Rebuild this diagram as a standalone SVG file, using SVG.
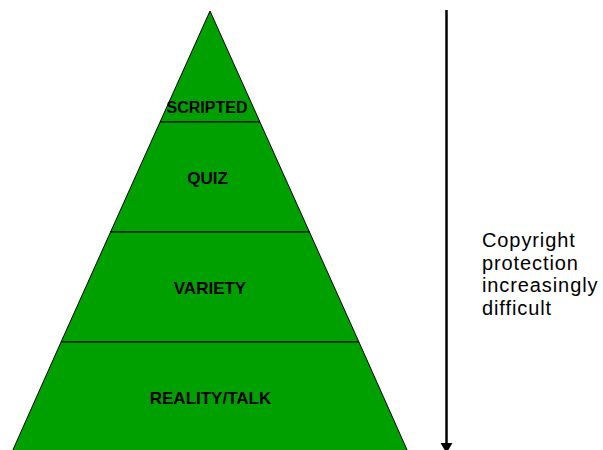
<svg xmlns="http://www.w3.org/2000/svg" width="603" height="450" viewBox="0 0 603 450">
<style>
.tier{fill:#00A000;stroke:#000;stroke-width:1}
.lbl{font-family:"Liberation Sans",Arial,sans-serif;font-weight:bold;font-size:17px;fill:#000;text-anchor:middle}
.side{font-family:"Liberation Sans",Arial,sans-serif;font-size:20px;fill:#000;letter-spacing:0.9px}
</style>
<rect width="603" height="450" fill="#fff"/>
<g id="scripted">
<polygon class="tier" points="210,11 259.95,122 160.05,122"/>
<text class="lbl" x="207" y="113" style="font-size:16px">SCRIPTED</text>
</g>
<g id="quiz">
<polygon class="tier" points="160.05,122 259.95,122 309.45,232 110.55,232"/>
<text class="lbl" x="207.5" y="184">QUIZ</text>
</g>
<g id="variety">
<polygon class="tier" points="110.55,232 309.45,232 358.95,342 61.05,342"/>
<text class="lbl" x="210" y="294">VARIETY</text>
</g>
<g id="reality">
<polygon class="tier" points="61.05,342 358.95,342 407.55,451 12.45,451"/>
<text class="lbl" x="210.5" y="404">REALITY/TALK</text>
</g>
<g id="connectors">
<line x1="446.5" y1="10" x2="446.5" y2="444" stroke="#000" stroke-width="2.5"/>
<polygon points="440.5,443 452.5,443 446.5,453" fill="#000"/>
</g>
<g id="caption">
<text class="side" x="482" y="247">Copyright</text>
<text class="side" x="482" y="270">protection</text>
<text class="side" x="482" y="292">increasingly</text>
<text class="side" x="482" y="315">difficult</text>
</g>
</svg>
